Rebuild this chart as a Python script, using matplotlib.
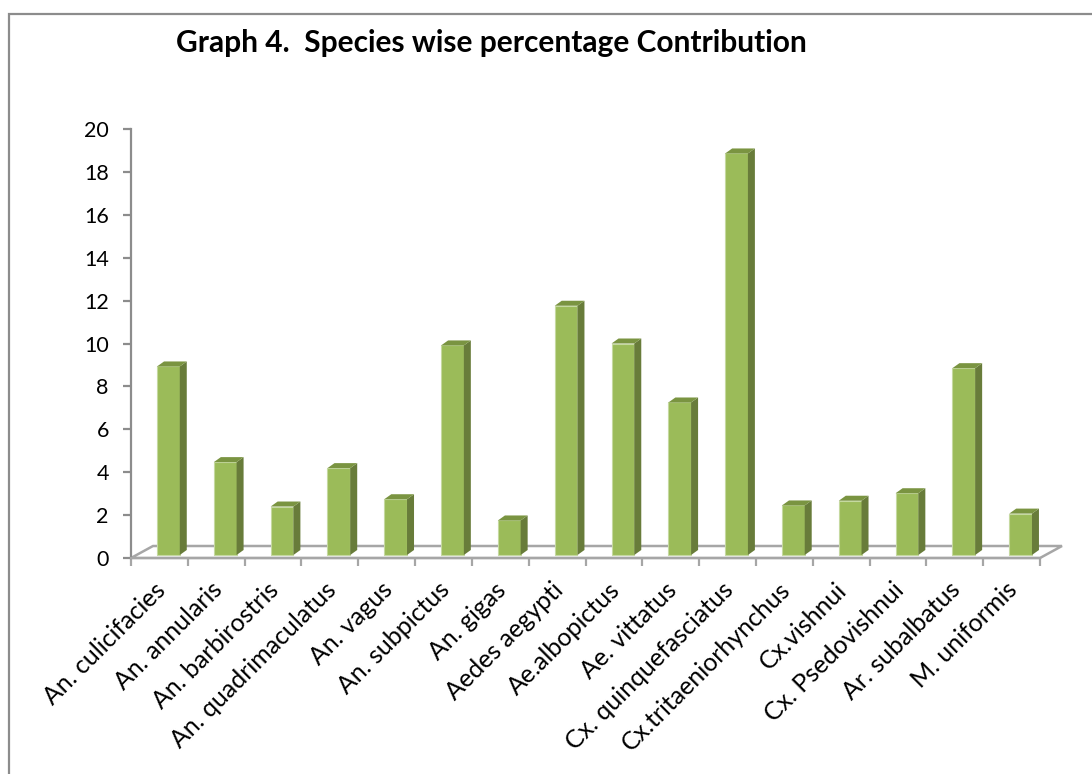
import matplotlib
matplotlib.use("Agg")
import matplotlib.pyplot as plt
from matplotlib.patches import Polygon, Rectangle
import numpy as np

categories = ["An. culicifacies", "An. annularis", "An. barbirostris", "An. quadrimaculatus",
              "An. vagus", "An. subpictus", "An. gigas", "Aedes aegypti", "Ae.albopictus",
              "Ae. vittatus", "Cx. quinquefasciatus", "Cx.tritaeniorhynchus", "Cx.vishnui",
              "Cx. Psedovishnui", "Ar. subalbatus", "M. uniformis"]
values = [8.93, 4.47, 2.40, 4.19, 2.74, 9.91, 1.75, 11.76, 10.0, 7.25, 18.86, 2.45, 2.67, 3.02, 8.85, 2.07]
yticks = [0, 2, 4, 6, 8, 10, 12, 14, 16, 18, 20]
title = "Graph 4.  Species wise percentage Contribution"

W, H = 1092, 774
fig = plt.figure(figsize=(W / 100, H / 100), dpi=100)
plt.rcParams['font.family'] = ['Lato', 'DejaVu Sans']

# outer border (only left/top visible)
fig.patches.append(Rectangle((8.5 / W, -0.1), 1.2, (H - 14) / H + 0.1, transform=fig.transFigure,
                             fill=False, edgecolor='#8c8c8c', linewidth=1.6))

left, right, top, bottom = 131, 1040, 129, 558
ax = fig.add_axes([left / W, (H - bottom) / H, (right - left) / W, (bottom - top) / H])
n = len(categories)
ax.set_xlim(0, n)
ax.set_ylim(0, 20)

pxx = n / (right - left)      # data per px in x
pxy = 20 / (bottom - top)     # data per px in y

grey = '#8c8c8c'
# floor
fdx, fdy = 22 * pxx, 12 * pxy
floor = Polygon([(0, 0), (n, 0), (n + fdx, fdy), (fdx, fdy)], closed=True,
                facecolor='white', edgecolor='#a6a6a6', linewidth=1.8, zorder=1, clip_on=False)
ax.add_patch(floor)

front = '#9bbb59'
side = '#687c3a'
topc = '#7a9441'
bw = 0.40
x = np.arange(n) + 0.5 + 9 * pxx
bdx, bdy = 7 * pxx, 5 * pxy
base = 3 * pxy
ax.bar(x, np.array(values) - base, bottom=base, width=bw, color=front, edgecolor='#c5d9a0',
       linewidth=0.8, zorder=3)
for xi, v in zip(x, values):
    r = xi + bw / 2
    l = xi - bw / 2
    ax.add_patch(Polygon([(r, base), (r + bdx, base + bdy), (r + bdx, v + bdy), (r, v)], closed=True,
                         facecolor=side, edgecolor='none', zorder=3))
    ax.add_patch(Polygon([(l, v), (r, v), (r + bdx, v + bdy), (l + bdx, v + bdy)], closed=True,
                         facecolor=topc, edgecolor='none', zorder=3, clip_on=False))

for s in ['top', 'right']:
    ax.spines[s].set_visible(False)
for s in ['left', 'bottom']:
    ax.spines[s].set_color(grey)
    ax.spines[s].set_linewidth(1.6)
ax.spines['bottom'].set_color('#a6a6a6')

ax.set_yticks(yticks)
ax.set_yticklabels([str(t) for t in yticks], fontsize=15.5)
ax.tick_params(axis='y', direction='out', length=6, width=1.6, color=grey, pad=10)
ax.set_xticks(np.arange(n + 1))
ax.set_xticklabels([])
ax.tick_params(axis='x', direction='out', length=6, width=1.6, color='#a6a6a6')

for i, c in enumerate(categories):
    ax.annotate(c, xy=(i + 0.5, 0), xycoords='data', xytext=(-6, -20), textcoords='offset pixels',
                rotation=45, ha='right', va='top', rotation_mode='anchor', fontsize=18,
                annotation_clip=False)

fig.text(491 / W, 1 - 43 / H, title, ha='center', va='center', fontsize=21.5, fontweight='bold')

fig.savefig("out.png", dpi=100)
